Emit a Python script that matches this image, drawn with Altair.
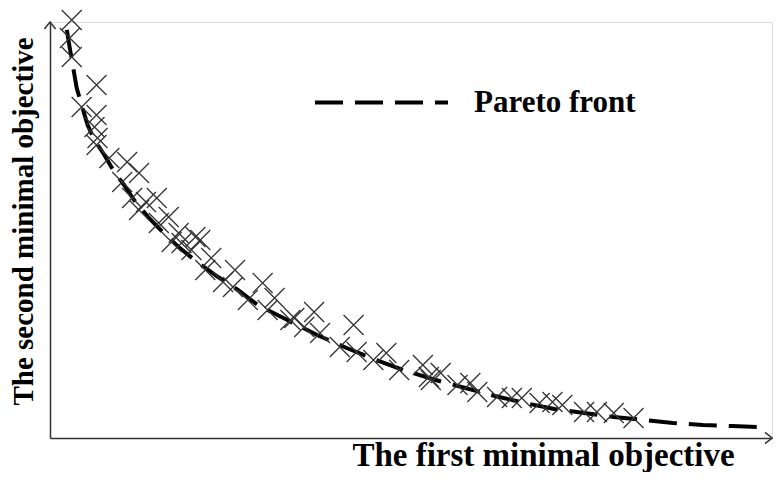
import altair as alt
import pandas as pd

# Pareto front curve (normalized objective units)
front_x = [2.33, 2.74, 3.15, 3.70, 4.38, 5.21, 6.16, 7.53, 8.90, 10.27, 11.64, 13.70,
           15.75, 17.81, 20.55, 23.29, 26.03, 28.77, 32.88, 36.99, 41.10, 45.21, 49.32,
           53.42, 57.53, 61.64, 65.75, 69.86, 73.97, 78.08, 82.19, 86.30, 90.41, 94.52, 97.95]
front_y = [98.1, 93.75, 89.66, 84.13, 80.05, 75.24, 71.63, 68.03, 63.94, 60.82, 57.21, 52.88,
           49.28, 45.91, 42.07, 38.70, 35.58, 31.97, 28.37, 24.76, 21.63, 18.75, 16.11,
           13.94, 12.02, 10.10, 8.41, 6.97, 6.01, 5.05, 4.33, 3.61, 3.13, 2.88, 2.64]

# Obtained solutions (X markers)
sol_x = [3.01, 2.74, 3.01, 6.44, 4.38, 6.44, 6.16, 6.58, 6.44, 8.22, 10.68, 12.33, 10.00,
         11.37, 14.79, 13.29, 12.33, 16.44, 15.07, 17.81, 20.14, 16.85, 18.22, 20.82, 19.59,
         22.33, 21.51, 25.62, 23.97, 25.34, 29.45, 27.40, 31.10, 30.14, 33.84, 33.29, 36.58,
         42.05, 35.21, 37.40, 40.14, 42.47, 44.79, 46.58, 48.36, 51.64, 52.47, 54.11, 52.74,
         56.44, 58.22, 59.18, 61.92, 63.97, 65.34, 67.81, 69.59, 70.96, 73.97, 75.75, 78.08,
         80.82]
sol_y = [100.48, 96.15, 91.59, 84.86, 79.57, 77.64, 74.76, 72.12, 70.43, 67.31, 66.35, 63.70,
         61.54, 57.69, 57.69, 56.73, 54.81, 53.13, 51.68, 49.28, 48.32, 47.12, 46.88, 47.60,
         45.19, 43.27, 40.38, 40.38, 37.50, 36.30, 37.26, 33.17, 33.65, 30.77, 28.85, 28.37,
         30.29, 27.16, 26.68, 25.24, 21.88, 20.67, 18.75, 20.43, 16.35, 17.55, 14.66, 15.63,
         13.94, 12.74, 13.22, 11.06, 9.86, 9.62, 9.62, 8.41, 8.65, 7.93, 6.25, 6.25, 6.01,
         4.81]

x_title = "The first minimal objective"
y_title = "The second minimal objective"
legend_label = "Pareto front"

front_df = pd.DataFrame({"x": front_x, "y": front_y, "series": legend_label})
sol_df = pd.DataFrame({"x": sol_x, "y": sol_y})
arrow_x_df = pd.DataFrame({"x": [100.0], "y": [0.0]})
arrow_y_df = pd.DataFrame({"x": [0.0], "y": [100.0]})

FONT = "Liberation Serif"

xs = alt.Scale(domain=[0, 100], nice=False, zero=False)
ys = alt.Scale(domain=[0, 100], nice=False, zero=False)

x_axis = alt.Axis(
    title=x_title, ticks=False, labels=False, grid=False,
    domainColor="#333333", domainWidth=1.5,
    titleFont=FONT, titleFontSize=33, titleFontWeight="bold", titleColor="black",
    titleX=493, titleY=27, titleAlign="center", titleBaseline="alphabetic",
)
y_axis = alt.Axis(
    title=y_title, ticks=False, labels=False, grid=False,
    domainColor="#333333", domainWidth=1.5,
    titleFont=FONT, titleFontSize=29, titleFontWeight="bold", titleColor="black",
    titleX=-18, titleY=199, titleAngle=270, titleAlign="center", titleBaseline="alphabetic",
)

line = alt.Chart(front_df).mark_line(color="black", strokeWidth=4).encode(
    x=alt.X("x:Q", scale=xs, axis=x_axis),
    y=alt.Y("y:Q", scale=ys, axis=y_axis),
    strokeDash=alt.StrokeDash(
        "series:N",
        scale=alt.Scale(domain=[legend_label], range=[[28, 12]]),
        legend=alt.Legend(
            title=None, orient="none", legendX=263, legendY=12,
            symbolType="stroke", symbolSize=17689, symbolStrokeWidth=4,
            symbolStrokeColor="black", labelFont=FONT, labelFontSize=31,
            labelFontWeight="bold", labelColor="black", labelOffset=24,
            padding=0, labelLimit=400,
        ),
    ),
)

points = alt.Chart(sol_df).mark_point(
    shape="M-1,-1L1,1M-1,1L1,-1", size=400, filled=False,
    stroke="#333333", strokeWidth=1.3, opacity=1,
).encode(x=alt.X("x:Q", scale=xs), y=alt.Y("y:Q", scale=ys))

arrow_x = alt.Chart(arrow_x_df).mark_point(
    shape="M-1,-0.8L0,0L-1,0.8", size=196, filled=False,
    stroke="#333333", strokeWidth=1.5, opacity=1,
).encode(x=alt.X("x:Q", scale=xs), y=alt.Y("y:Q", scale=ys))

arrow_y = alt.Chart(arrow_y_df).mark_point(
    shape="M-0.8,1L0,0L0.8,1", size=196, filled=False,
    stroke="#333333", strokeWidth=1.5, opacity=1,
).encode(x=alt.X("x:Q", scale=xs), y=alt.Y("y:Q", scale=ys))

chart = alt.layer(line, points, arrow_x, arrow_y).properties(
    width=722, height=416,
    autosize=alt.AutoSizeParams(type="none"),
    padding={"left": 42, "top": 14, "right": 1, "bottom": 34},
).configure_view(stroke=None).configure(background="white")

chart.save("out.html", embed_options={"renderer": "svg", "actions": False})
